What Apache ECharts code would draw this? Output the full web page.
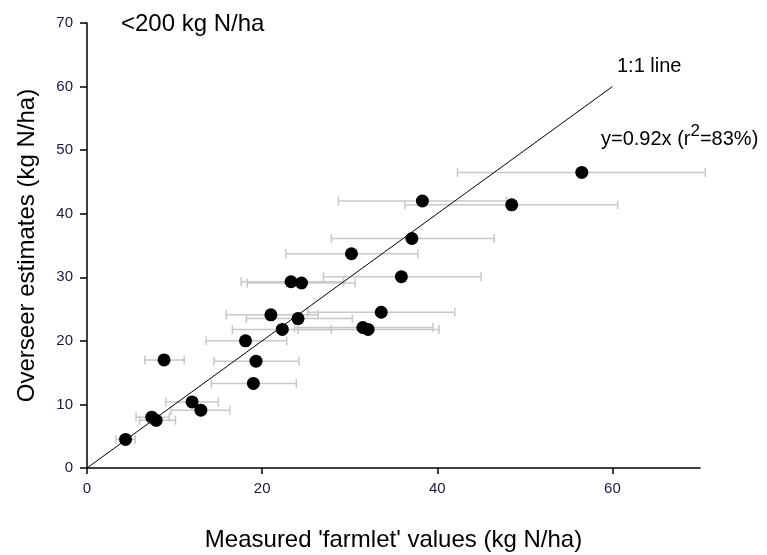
<!DOCTYPE html>
<html>
<head>
<meta charset="utf-8">
<script src="https://cdn.jsdelivr.net/npm/echarts@6/dist/echarts.min.js"></script>
<style>
  html, body { margin: 0; padding: 0; background: #fff; }
  #chart { width: 767px; height: 555px; }
</style>
</head>
<body>
<div id="chart"></div>
<script>
// measured farmlet values (x) and Overseer estimates (y), kg N/ha
const measured = [4.4, 7.4, 7.9, 8.8, 12.0, 13.0, 18.1, 19.0, 19.3, 21.0, 22.3, 24.1,
    23.3, 24.5, 30.2, 31.5, 32.1, 33.6, 35.9, 37.1, 38.3, 48.5, 56.5];
const overseer = [4.5, 8.0, 7.5, 17.0, 10.4, 9.1, 20.0, 13.3, 16.8, 24.1, 21.8, 23.5,
    29.3, 29.1, 33.7, 22.1, 21.8, 24.5, 30.1, 36.1, 42.0, 41.4, 46.5];
// horizontal error bar ends
const xLow = [3.3, 5.6, 6.0, 6.6, 9.0, 9.6, 13.6, 14.2, 14.5, 15.9, 16.6, 18.2,
    17.6, 18.3, 22.7, 23.7, 24.1, 25.2, 27.0, 27.9, 28.7, 36.3, 42.3];
const xHigh = [5.5, 9.4, 10.1, 11.1, 15.0, 16.3, 22.8, 23.9, 24.2, 26.4, 27.9, 30.3,
    29.3, 30.6, 37.8, 39.5, 40.2, 42.0, 45.0, 46.5, 47.9, 60.6, 70.6];
const oneToOne = [[0, 0], [60, 60]];
const xTicks = [0, 20, 40, 60];

const chart = echarts.init(document.getElementById('chart'));

const points = measured.map((x, i) => [x, overseer[i]]);
const bars = measured.map((x, i) => [xLow[i], xHigh[i], overseer[i]]);

const labelColor = '#1a1a3a';

const option = {
    backgroundColor: '#fff',
    animation: false,
    textStyle: { fontFamily: 'Liberation Sans, Arial, sans-serif' },
    grid: { left: 87, right: 67, top: 23, bottom: 87, outerBoundsMode: 'none' },
    xAxis: {
        type: 'value',
        min: 0,
        max: 70,
        interval: 20,
        name: "Measured 'farmlet' values (kg N/ha)",
        nameLocation: 'middle',
        nameGap: 60,
        nameTextStyle: { fontSize: 24, color: '#000' },
        axisLine: { lineStyle: { color: '#000', width: 1.5 } },
        axisTick: { inside: false, length: 6, customValues: xTicks, lineStyle: { color: '#000', width: 1.5 } },
        axisLabel: { customValues: xTicks, fontSize: 15, color: labelColor, margin: 13 },
        splitLine: { show: false }
    },
    yAxis: {
        type: 'value',
        min: 0,
        max: 70,
        interval: 10,
        name: 'Overseer estimates (kg N/ha)',
        nameLocation: 'middle',
        nameGap: 48,
        nameTextStyle: { fontSize: 24, color: '#000' },
        axisLine: { show: true, lineStyle: { color: '#000', width: 1.5 } },
        axisTick: { show: true, length: 7, lineStyle: { color: '#000', width: 1.5 } },
        axisLabel: { fontSize: 15, color: labelColor, margin: 14 },
        splitLine: { show: false }
    },
    title: {
        text: '<200 kg N/ha',
        left: 116,
        top: 7,
        textStyle: { fontSize: 24, fontWeight: 'normal', color: '#000' }
    },
    graphic: [
        {
            type: 'text',
            left: 617,
            top: 56,
            style: { text: '1:1 line', fontSize: 20, fill: '#000', font: '20px Liberation Sans' }
        },
        {
            type: 'text',
            left: 601,
            top: 123,
            style: {
                text: '{a|y=0.92x (r}{s|2}{a|=83%)}',
                rich: {
                    a: { fontSize: 20, fontFamily: 'Liberation Sans', fill: '#000', verticalAlign: 'bottom' },
                    s: { fontSize: 17, fontFamily: 'Liberation Sans', fill: '#000', verticalAlign: 'top', padding: [0, 0, 9, 0] }
                }
            }
        }
    ],
    series: [
        {
            type: 'custom',
            clip: false,
            data: bars,
            renderItem: function (params, api) {
                const lo = api.coord([api.value(0), api.value(2)]);
                const hi = api.coord([api.value(1), api.value(2)]);
                const cap = 4.5;
                const style = { stroke: '#c8c8c8', lineWidth: 1.5 };
                return {
                    type: 'group',
                    children: [
                        { type: 'line', shape: { x1: lo[0], y1: lo[1], x2: hi[0], y2: hi[1] }, style: style },
                        { type: 'line', shape: { x1: lo[0], y1: lo[1] - cap, x2: lo[0], y2: lo[1] + cap }, style: style },
                        { type: 'line', shape: { x1: hi[0], y1: hi[1] - cap, x2: hi[0], y2: hi[1] + cap }, style: style }
                    ]
                };
            },
            z: 1
        },
        {
            type: 'line',
            data: oneToOne,
            symbol: 'none',
            lineStyle: { color: '#000', width: 1 },
            z: 2
        },
        {
            type: 'scatter',
            data: points,
            symbol: 'circle',
            symbolSize: 13,
            itemStyle: { color: '#000', opacity: 1 },
            z: 3
        }
    ]
};

chart.setOption(option);
</script>
</body>
</html>
